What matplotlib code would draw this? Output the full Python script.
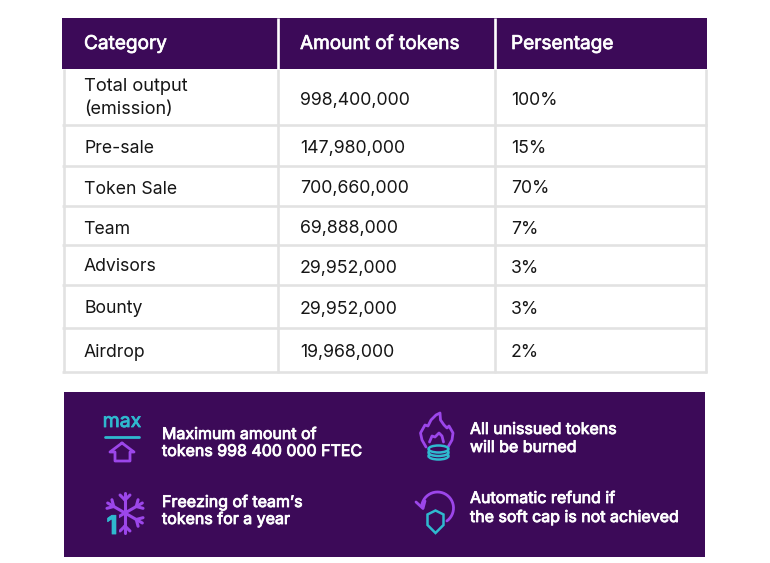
import numpy as np
import matplotlib
matplotlib.use("Agg")
import matplotlib.pyplot as plt
import matplotlib.patheffects as pe
from matplotlib.patches import Rectangle, Polygon, Ellipse

headers = ["Category", "Amount of tokens", "Persentage"]
categories = ["Total output\n(emission)", "Pre-sale", "Token Sale", "Team", "Advisors", "Bounty", "Airdrop"]
amounts = [998400000, 147980000, 700660000, 69888000, 29952000, 29952000, 19968000]
percents = [100, 15, 70, 7, 3, 3, 2]
notes = ["Maximum amount of\ntokens 998 400 000 FTEC", "Freezing of team\u2019s\ntokens for a year",
         "All unissued tokens\nwill be burned", "Automatic refund if\nthe soft cap is not achieved"]

# layout, in pixels of the 770x563 picture
row_lines = [69, 125, 166, 206, 245, 285, 328, 372]
col_lines = [63.5, 278, 495, 705.5]
cat_base = [None, 153, 194, 234, 271, 313, 357]
cat_x = [84, 84, 84, 83, 84, 84, 84]
num_base = [105, 153, 193, 233.5, 273, 314, 357]
note_pos = [(162, 439, 456), (162, 507, 524), (470, 434, 452), (470, 503, 522)]

PURPLE = "#3c0a58"
GREY = "#e2e2e2"
CYAN = "#2fb9cf"
VIOLET = "#9c46ea"
INK = "#161616"
FONT = "Inter"


def heavy(color, width):
    return [pe.withStroke(linewidth=width, foreground=color)]


fig = plt.figure(figsize=(7.7, 5.63), dpi=100)
ax = fig.add_axes([0, 0, 1, 1])
ax.set_xlim(0, 770)
ax.set_ylim(563, 0)
ax.axis("off")

# table
for x in col_lines:
    ax.plot([x, x], [row_lines[0], row_lines[-1] + 1], color=GREY, lw=1.9, solid_capstyle="butt")
for y in row_lines[1:]:
    ax.plot([62, 707], [y, y], color=GREY, lw=1.9, solid_capstyle="butt")
ax.add_patch(Rectangle((62, 18), 645, 51, color=PURPLE, lw=0))
for x in col_lines[1:3]:
    ax.plot([x, x], [18, 69], color="white", lw=1.9, solid_capstyle="butt")

for x, h in zip([84, 300, 511], headers):
    ax.text(x, 49, h, color="white", fontsize=13.7, family=FONT, va="baseline",
            path_effects=heavy("white", 0.5))

ax.text(84, 91, categories[0].split("\n")[0], color=INK, fontsize=13.2, family=FONT, va="baseline")
ax.text(84, 114.5, categories[0].split("\n")[1], color=INK, fontsize=13, family=FONT, va="baseline")
for i in range(1, len(categories)):
    ax.text(cat_x[i], cat_base[i], categories[i], color=INK, fontsize=12.7, family=FONT, va="baseline")
for i in range(len(amounts)):
    ax.text(300, num_base[i], f"{amounts[i]:,}", color=INK, fontsize=12.8, family=FONT, va="baseline")
    ax.text(511, num_base[i], f"{percents[i]}%", color=INK, fontsize=12.7, family=FONT, va="baseline")

# info panel
ax.add_patch(Rectangle((64, 392), 641, 165, color=PURPLE, lw=0))
for note, (x, y1, y2) in zip(notes, note_pos):
    a, b = note.split("\n")
    ax.text(x, y1, a, color="white", fontsize=11.5, family=FONT, va="baseline", path_effects=heavy("white", 0.6))
    ax.text(x, y2, b, color="white", fontsize=11.5, family=FONT, va="baseline", path_effects=heavy("white", 0.6))


def stroke(points, color=VIOLET, lw=2.0, closed=False):
    pts = np.array(points, dtype=float)
    if closed:
        pts = np.vstack([pts, pts[0]])
    ax.plot(pts[:, 0], pts[:, 1], color=color, lw=lw, solid_joinstyle="round", solid_capstyle="round")


# max icon
ax.text(122, 427, "max", color=CYAN, fontsize=14, family=FONT, ha="center", va="baseline",
        path_effects=heavy(CYAN, 0.6))
stroke([(105, 437), (139, 437)], CYAN, 2.0)
stroke([(122, 443), (134, 452), (130, 452), (130, 461), (115, 461), (115, 452), (110, 452)], closed=True)

# snowflake icon
cx, cy = 125, 513
for ang in [90, 270, 30, 150, 210, 330]:
    dx, dy = np.cos(np.radians(ang)), -np.sin(np.radians(ang))
    stroke([(cx, cy), (cx + 20 * dx, cy + 20 * dy)], lw=2.2)
    for side in [-45, 45]:
        a2 = np.radians(ang + side)
        mx, my = cx + 13 * dx, cy + 13 * dy
        stroke([(mx, my), (mx + 7 * np.cos(a2), my - 7 * np.sin(a2))], lw=2.2)
ax.add_patch(Rectangle((105, 515), 14, 22, color=PURPLE, lw=0, zorder=3))
ax.text(112, 534, "1", color=CYAN, fontsize=18.5, fontweight="bold", family=FONT, ha="center", va="baseline", zorder=4,
        path_effects=heavy(CYAN, 0.6))

# flame and coins icon
stroke([(426, 447), (422, 440), (420.5, 433), (425, 425), (428, 426), (431, 420), (436, 415), (440, 413),
        (440.5, 420), (444, 425), (447, 428), (449, 426), (453, 433), (452, 440), (448, 447)])
stroke([(429.5, 442), (432, 436), (435, 437), (439, 433), (442, 436), (443.5, 442)])
ax.add_patch(Rectangle((429, 447), 19, 11, facecolor=PURPLE, lw=0, zorder=2))
ax.add_patch(Ellipse((438.5, 456), 20, 7, facecolor=PURPLE, edgecolor=CYAN, lw=1.8, zorder=3))
ax.add_patch(Ellipse((438.5, 452.5), 20, 7, facecolor=PURPLE, edgecolor=CYAN, lw=1.8, zorder=3))
ax.add_patch(Ellipse((438.5, 449), 20, 7, facecolor=PURPLE, edgecolor=CYAN, lw=1.8, zorder=3))

# refund icon
t = np.radians(np.arange(170, -55, -8))
stroke(np.column_stack([437.5 + 16 * np.cos(t), 508 - 16 * np.sin(t)]), lw=2.0)
stroke([(416, 502), (423, 508.5), (425, 501)], lw=2.0)
ax.add_patch(Polygon([(427.5, 514.5), (435.5, 510.5), (443.5, 514.5), (443.5, 525), (435.5, 533), (427.5, 525)],
                     closed=True, facecolor=PURPLE, edgecolor=CYAN, lw=1.8, zorder=3))

fig.savefig("out.png", dpi=100, facecolor="white")
